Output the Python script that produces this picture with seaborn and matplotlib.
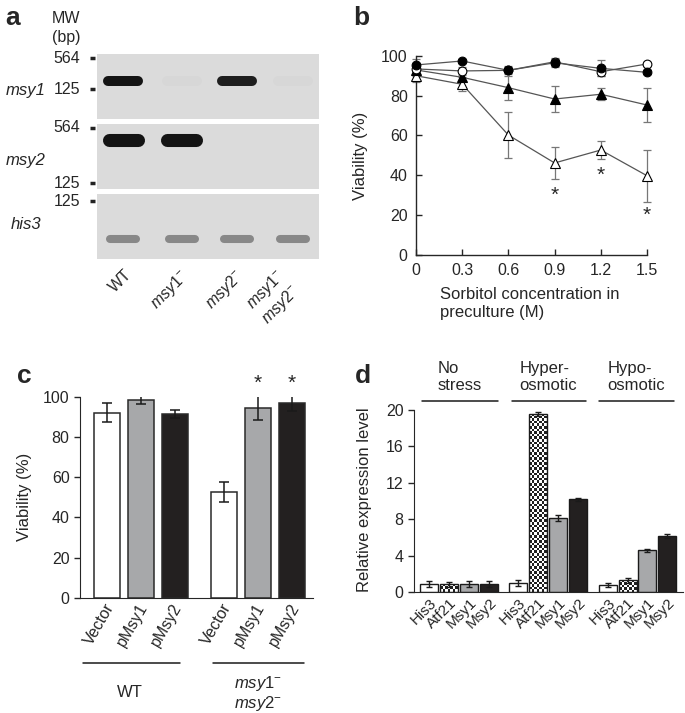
import numpy as np
import pandas as pd
import matplotlib
matplotlib.use("Agg")
import matplotlib.pyplot as plt
import seaborn as sns

sns.set_style("ticks")
plt.rcParams["font.family"] = ["Liberation Sans", "DejaVu Sans"]
plt.rcParams["mathtext.fontset"] = "custom"
plt.rcParams["mathtext.rm"] = "Liberation Sans"
plt.rcParams["mathtext.it"] = "Liberation Sans:italic"
plt.rcParams["font.size"] = 11.5

# ---------------- data ----------------
# a: RT-PCR gel (band intensity per lane, 0 = none, 1 = strong)
gel_lanes = ["WT", r"$\mathit{msy1}^{-}$", r"$\mathit{msy2}^{-}$",
             r"$\mathit{msy1}^{-}$" + "\n" + r"$\mathit{msy2}^{-}$"]
gel_genes = ["msy1", "msy2", "his3"]
band_msy1 = [1.0, 0.02, 0.95, 0.02]
band_msy2 = [1.0, 1.0, 0.0, 0.0]
band_his3 = [0.42, 0.42, 0.42, 0.42]
gel_marks = [["564", "125"], ["564", "125"], ["125"]]

# b: viability vs sorbitol in preculture
sorbitol = [0, 0.3, 0.6, 0.9, 1.2, 1.5]
via_filled_circle = [95.4, 97.4, 92.7, 96.5, 93.7, 91.7]
err_filled_circle = [3.0, 1.0, 2.0, 2.0, 4.0, 1.0]
via_open_circle = [93.4, 92.4, 92.7, 97.0, 92.0, 95.9]
err_open_circle = [2.0, 2.0, 1.0, 2.0, 2.0, 1.0]
via_filled_tri = [92.9, 89.2, 84.0, 78.3, 80.7, 75.3]
err_filled_tri = [3.0, 2.0, 6.0, 6.5, 3.0, 8.4]
via_open_tri = [90.0, 85.7, 60.2, 46.2, 52.7, 39.8]
err_open_tri = [3.0, 3.5, 11.5, 8.0, 4.7, 13.0]
star_x = [0.9, 1.2, 1.5]
star_y = [30, 40, 20]

# c: viability with plasmids
c_strains = ["WT", "dKO"]
c_plasmids = ["Vector", "pMsy1", "pMsy2"]
c_via = [92.0, 98.2, 91.4, 52.7, 94.2, 96.7]
c_err = [4.8, 2.0, 2.0, 4.9, 6.0, 3.8]
c_star = [False, False, False, False, True, True]

# d: relative expression
d_conditions = ["No\nstress", "Hyper-\nosmotic", "Hypo-\nosmotic"]
d_genes = ["His3", "Atf21", "Msy1", "Msy2"]
d_level = [0.9, 0.88, 0.9, 0.9,
           1.0, 19.56, 8.15, 10.2,
           0.77, 1.3, 4.6, 6.2]
d_err = [0.3, 0.3, 0.3, 0.3,
         0.3, 0.25, 0.35, 0.2,
         0.2, 0.25, 0.2, 0.25]

# ---------------- figure ----------------
W, H = 685, 713
fig = plt.figure(figsize=(W / 100, H / 100), dpi=100)


def box(l, t, r, b):
    return [l / W, 1 - b / H, (r - l) / W, (b - t) / H]


def ftext(x, y, s, **kw):
    fig.text(x / W, 1 - y / H, s, **kw)


# ---- panel a ----
gel_rects = [box(97, 54, 319, 119), box(97, 124, 319, 189), box(97, 194, 319, 259)]
gel_bands = [band_msy1, band_msy2, band_his3]
band_pos = [0.59, 0.754, 0.31]
band_lw = [7.2, 9.4, 5.8]
band_half = [0.27, 0.26, 0.23]
mark_pos = [[0.938, 0.457], [0.943, 0.088], [0.892]]
gene_base = [95, 165, 229]
lane_x = [0.47, 1.53, 2.52, 3.53]
bg = 0.86
dark = 0.08
for k, gene in enumerate(gel_genes):
    ax = fig.add_axes(gel_rects[k])
    ax.set_facecolor(str(bg))
    for lx, v in zip(lane_x, gel_bands[k]):
        if v <= 0:
            continue
        g = bg - v * (bg - dark)
        ax.plot([lx - band_half[k], lx + band_half[k]], [band_pos[k]] * 2,
                color=str(g), lw=band_lw[k], solid_capstyle="round")
    ax.set_xlim(0, 4)
    ax.set_ylim(0, 1)
    ax.set_xticks([])
    ax.set_yticks([])
    for s in ax.spines.values():
        s.set_visible(False)
    for lab, yy in zip(gel_marks[k], mark_pos[k]):
        ax.plot([-0.03, -0.01], [yy, yy], transform=ax.transAxes, clip_on=False,
                color="#222222", lw=2.5, solid_capstyle="butt")
        ax.text(-0.075, yy, lab, transform=ax.transAxes, ha="right", va="center")
    ftext(26, gene_base[k], gene, ha="center", va="baseline", style="italic", fontsize=12)
    if k == 2:
        trans = ax.get_xaxis_transform()
        for lx, lab in zip(lane_x, gel_lanes):
            ax.text(lx + 0.2, -0.12, lab, transform=trans, rotation=45,
                    ha="right", va="top", fontsize=11.5)

ftext(5, 25, "a", fontsize=19, fontweight="bold", va="baseline")
ftext(52, 23, "MW", va="baseline")
ftext(52, 42, "(bp)", va="baseline")

# ---- panel b ----
axb = fig.add_axes(box(416, 55.8, 647, 255))
series = [
    (via_open_tri, err_open_tri, "^", "white", 6.5),
    (via_filled_tri, err_filled_tri, "^", "black", 6.5),
    (via_open_circle, err_open_circle, "o", "white", 6.3),
    (via_filled_circle, err_filled_circle, "o", "black", 6.3),
]
for vals, errs, m, fc, ms in series:
    axb.errorbar(sorbitol, vals, yerr=errs, fmt="none", ecolor="#777777",
                 elinewidth=0.9, capsize=3, capthick=0.9, clip_on=False, zorder=2)
    sns.lineplot(x=sorbitol, y=vals, ax=axb, color="#555555", lw=0.9, marker=m,
                 markersize=ms, markerfacecolor=fc, markeredgecolor="black",
                 markeredgewidth=0.8, clip_on=False, zorder=3)
for sx, sy in zip(star_x, star_y):
    axb.text(sx, sy, "*", ha="center", va="center", fontsize=15)
axb.set_xlim(0, 1.5)
axb.set_ylim(0, 100)
axb.set_xticks(sorbitol)
axb.set_xticklabels(["0", "0.3", "0.6", "0.9", "1.2", "1.5"])
axb.set_yticks(range(0, 101, 20))
axb.tick_params(direction="in", length=4, width=1, labelsize=11.5, pad=6)
axb.set_xlabel("")
axb.set_ylabel("")
sns.despine(ax=axb)
for s in ["left", "bottom"]:
    axb.spines[s].set_linewidth(1)
ftext(353, 25, "b", fontsize=19, fontweight="bold", va="baseline")
ftext(361, 155.5, "Viability (%)", rotation=90, ha="center", va="center", fontsize=12)
ftext(440, 287, "Sorbitol concentration in\npreculture (M)", ha="left", va="top",
      fontsize=12, linespacing=1.25)

# ---- panel c ----
df_c = pd.DataFrame({
    "strain": np.repeat(c_strains, 3),
    "plasmid": c_plasmids * 2,
    "viability": c_via,
})
axc = fig.add_axes(box(80, 396.7, 313, 597.7))
sns.barplot(data=df_c, x="strain", y="viability", hue="plasmid",
            palette={"Vector": "white", "pMsy1": "#a6a8ab", "pMsy2": "#231f20"},
            width=0.87, gap=0.235, edgecolor="#2a2a2a", linewidth=1.1,
            errorbar=None, legend=False, ax=axc)
bars_c = sorted(axc.patches, key=lambda p: p.get_x())
cx = [p.get_x() + p.get_width() / 2 for p in bars_c]
axc.errorbar(cx, c_via, yerr=c_err, fmt="none", ecolor="#1a1a1a",
             elinewidth=1.1, capsize=3.5, capthick=1.1, zorder=3)
for x, v, e, st in zip(cx, c_via, c_err, c_star):
    if st:
        axc.text(x, 106.5, "*", ha="center", va="center", fontsize=15, clip_on=False)
axc.set_xlim(-0.52, 1.47)
axc.set_ylim(0, 100)
axc.set_yticks(range(0, 101, 20))
axc.set_xticks([x + 0.03 for x in cx])
axc.set_xticklabels(c_plasmids * 2, rotation=60, ha="right", va="center",
                    rotation_mode="anchor")
axc.tick_params(axis="x", length=0, pad=5, labelsize=11.5)
axc.tick_params(axis="y", direction="out", length=4, width=1, labelsize=11.5)
axc.set_xlabel("")
axc.set_ylabel("")
sns.despine(ax=axc)
trans_c = axc.get_xaxis_transform()
axc.plot([-0.496, 0.333], [-0.325, -0.325], transform=trans_c, clip_on=False,
         color="#1a1a1a", lw=1.1)
axc.plot([0.615, 1.393], [-0.325, -0.325], transform=trans_c, clip_on=False,
         color="#1a1a1a", lw=1.1)
ftext(130, 697, "WT", ha="center", va="baseline", fontsize=12)
ftext(258, 674, r"$\mathit{msy1}^{-}$" + "\n" + r"$\mathit{msy2}^{-}$",
      ha="center", va="top", fontsize=12, linespacing=1.1)
ftext(17, 383, "c", fontsize=19, fontweight="bold", va="baseline")
ftext(25, 497, "Viability (%)", rotation=90, ha="center", va="center", fontsize=12)

# ---- panel d ----
df_d = pd.DataFrame({
    "condition": np.repeat(d_conditions, 4),
    "gene": d_genes * 3,
    "level": d_level,
})
axd = fig.add_axes(box(414, 410, 683, 592.3))
sns.barplot(data=df_d, x="condition", y="level", hue="gene",
            palette={"His3": "white", "Atf21": "white", "Msy1": "#a6a8ab", "Msy2": "#231f20"},
            width=0.894, gap=0.1, edgecolor="#1a1a1a", linewidth=1.0,
            errorbar=None, legend=False, ax=axd)
bars_d = sorted(axd.patches, key=lambda p: p.get_x())
dx = [p.get_x() + p.get_width() / 2 for p in bars_d]
xlim_d = (-0.505, 2.51)
axd.set_xlim(*xlim_d)
axd.set_ylim(0, 20)
# checkered fill for Atf21 bars
px_x = (683 - 414) / (xlim_d[1] - xlim_d[0])
px_y = (592.3 - 410) / 20
sq = 2.6
for p, gname in zip(bars_d, d_genes * 3):
    if gname != "Atf21":
        continue
    x0, w, h = p.get_x(), p.get_width(), p.get_height()
    ncol = max(1, int(round(w * px_x / sq)))
    nrow = max(1, int(round(h * px_y / sq)))
    checker = np.add.outer(np.arange(nrow), np.arange(ncol)) % 2
    im = axd.imshow(checker, cmap="gray_r", vmin=0, vmax=1.15, extent=[x0, x0 + w, 0, h],
                    aspect="auto", interpolation="nearest", zorder=1.5)
    im.set_clip_path(p)
    p.set_facecolor("none")
    p.set_zorder(1.6)
axd.set_xlim(*xlim_d)
axd.set_ylim(0, 20)
axd.errorbar(dx, d_level, yerr=d_err, fmt="none", ecolor="#1a1a1a",
             elinewidth=1.0, capsize=2.2, capthick=1.0, zorder=3)
axd.set_yticks(range(0, 21, 4))
axd.set_xticks([x + 0.06 for x in dx])
axd.set_xticklabels(d_genes * 3, rotation=45, ha="right", va="center",
                    rotation_mode="anchor")
axd.tick_params(axis="x", length=0, pad=6, labelsize=11)
axd.tick_params(axis="y", direction="out", length=4, width=1, labelsize=11.5)
axd.set_xlabel("")
axd.set_ylabel("")
sns.despine(ax=axd)
trans_d = axd.get_xaxis_transform()
head_lines = [(-0.416, 0.433), (0.589, 1.427), (1.573, 2.41)]
head_text_x = [-0.238, 0.678, 1.661]
for (a0, a1), tx, lab in zip(head_lines, head_text_x, d_conditions):
    axd.plot([a0, a1], [1.049, 1.049], transform=trans_d, clip_on=False,
             color="#1a1a1a", lw=1.1)
    axd.text(tx, 1.27, lab, transform=trans_d, ha="left", va="top",
             fontsize=12, linespacing=1.15)
ftext(355, 383, "d", fontsize=19, fontweight="bold", va="baseline")
ftext(365, 500, "Relative expression level", rotation=90, ha="center", va="center",
      fontsize=12)

fig.savefig("out.png", dpi=100)
